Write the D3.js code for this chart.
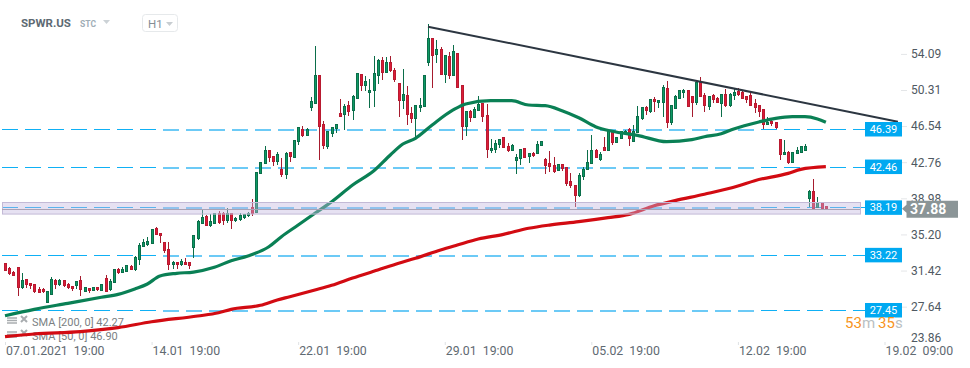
<!DOCTYPE html>
<html>
<head>
<meta charset="utf-8">
<script src="https://cdn.jsdelivr.net/npm/d3@7"></script>
<style>
  html, body { margin: 0; padding: 0; background: #fff; }
  svg { display: block; font-family: Roboto, sans-serif; }
</style>
</head>
<body>
<div id="chart"></div>
<script>
var opens = [32.27,31.78,31.36,31.85,29.76,30.59,30.21,30.14,29.58,29.55,28.22,29.06,30.56,30.10,30.52,30.14,29.89,30.03,30.49,29.41,
  29.69,29.48,29.76,29.48,30.70,29.55,30.31,31.74,31.36,31.53,32.02,31.64,32.76,34.08,34.29,34.43,35.93,35.48,34.50,33.80,
  32.16,32.41,32.16,32.44,32.44,34.01,34.92,36.52,37.25,36.24,36.52,37.50,37.50,36.80,37.50,36.77,36.87,37.11,37.36,38.20,
  37.70,41.72,42.76,44.16,43.53,43.04,42.20,41.61,43.88,43.46,45.07,46.36,45.66,48.62,49.04,52.04,46.91,44.61,45.90,46.43,
  48.03,47.86,48.80,48.31,49.56,52.11,50.89,50.19,50.47,51.94,53.58,52.29,53.37,52.46,51.10,49.36,49.91,48.03,47.47,48.59,
  48.73,53.33,55.81,54.17,54.76,52.14,53.99,51.97,54.34,50.89,46.63,48.17,47.61,48.31,49.04,47.82,44.09,44.23,44.75,45.45,
  44.61,44.09,43.07,43.32,44.30,43.49,43.84,43.81,44.64,43.25,42.83,42.62,42.03,42.69,42.41,40.88,40.49,39.41,41.40,42.17,
  42.76,44.19,43.25,44.50,44.12,46.11,44.96,45.38,45.94,46.29,45.06,46.01,47.51,48.69,48.27,49.49,49.15,49.15,50.65,47.05,
  48.55,49.63,50.19,50.44,49.77,49.15,51.24,49.91,48.73,49.91,49.63,49.08,50.02,48.83,49.88,50.30,50.23,49.74,49.91,49.01,
  48.83,48.45,46.88,47.16,47.05,45.31,43.70,43.95,42.87,43.81,43.91,44.19,39.10,39.90,38.19,38.72,38.23];
var highs = [32.34,31.92,31.50,31.92,31.36,30.66,30.24,30.21,29.82,29.72,29.41,30.87,30.66,30.70,30.59,30.24,29.96,30.52,31.01,29.89,
  29.76,29.82,29.82,30.14,31.08,30.66,31.78,31.81,31.92,32.20,32.13,33.10,34.43,34.92,35.06,35.96,36.10,35.55,34.60,34.53,
  32.58,32.48,32.76,32.86,32.48,35.34,36.84,37.92,37.36,37.50,37.57,37.78,37.71,38.09,37.50,37.15,37.57,37.50,37.71,39.07,
  41.94,42.90,44.61,44.16,43.53,43.98,43.32,43.98,43.98,45.27,46.57,46.70,46.46,49.77,55.08,52.04,47.26,46.08,46.57,46.91,
  49.53,49.01,49.36,49.91,52.22,52.11,51.94,51.66,54.03,53.68,53.89,53.96,54.03,52.77,51.24,52.67,50.89,48.66,48.87,49.60,
  52.08,57.38,55.88,55.70,54.93,54.03,54.48,55.18,54.34,50.89,48.17,48.38,48.72,49.84,49.04,48.97,45.31,45.24,45.31,45.52,
  44.89,44.82,43.77,44.26,44.37,43.91,43.95,45.17,45.10,43.32,44.09,43.42,42.69,42.69,42.41,41.82,40.49,41.75,42.45,44.19,
  45.76,44.26,44.02,45.59,46.18,46.18,45.59,46.22,46.29,46.46,46.81,48.80,48.73,48.80,49.56,49.70,49.39,50.99,51.41,48.80,
  49.91,50.47,50.54,50.44,49.84,51.31,51.80,50.12,49.84,50.02,49.70,50.02,50.61,50.12,50.54,50.65,50.37,49.84,50.30,49.49,
  48.90,48.45,47.61,47.33,47.12,45.31,45.24,44.09,43.95,44.47,44.54,44.82,40.01,41.16,39.27,38.72,38.23];
var lows = [31.50,31.15,31.01,28.95,29.69,29.72,29.62,29.23,29.23,29.27,28.15,28.99,29.69,29.96,29.82,29.69,29.41,29.62,28.92,29.34,
  29.20,29.41,29.48,29.41,29.34,29.41,30.24,31.22,31.29,31.43,31.64,31.57,32.16,34.01,34.19,34.36,35.27,34.43,33.38,31.64,
  31.71,31.78,32.06,32.13,31.78,32.89,34.78,36.45,36.24,36.17,36.45,36.49,36.31,36.52,35.96,36.66,36.80,37.01,37.22,37.29,
  37.70,41.72,42.69,42.94,42.55,42.62,41.40,41.16,42.97,43.39,44.72,45.59,45.66,48.31,49.04,43.15,44.30,44.30,45.52,46.01,
  47.61,46.29,47.75,47.33,49.56,50.40,50.40,48.59,48.73,51.10,51.52,52.22,52.39,51.27,47.68,48.48,46.81,46.98,45.41,48.17,
  48.66,52.98,50.68,53.33,52.14,51.24,51.59,51.97,50.71,45.24,45.69,47.16,47.57,48.31,47.16,43.39,43.91,43.91,44.40,44.47,
  44.02,44.05,41.71,42.62,43.42,42.86,43.49,43.74,44.61,41.71,41.92,41.82,41.99,41.99,40.42,40.25,38.26,39.31,41.05,42.17,
  42.76,43.32,43.07,44.09,44.09,44.75,44.89,45.38,45.87,44.61,45.06,46.01,47.33,47.85,48.03,48.20,48.55,47.68,46.49,46.77,
  48.55,49.56,49.60,48.73,47.68,48.94,49.70,48.20,48.38,49.08,49.08,47.68,48.73,48.73,49.42,49.84,49.49,49.08,48.80,48.03,
  47.68,46.39,46.81,46.70,46.42,43.15,43.67,42.73,42.87,43.77,43.84,44.16,38.19,38.05,38.16,38.09,38.05];
var closes = [31.57,31.29,31.08,29.82,30.52,30.10,30.00,29.37,29.30,29.34,29.34,30.59,30.07,30.49,30.03,29.76,29.65,30.45,29.62,29.76,
  29.48,29.76,29.55,30.07,29.41,30.45,31.64,31.36,31.74,32.06,31.71,32.96,34.22,34.50,34.64,35.89,35.34,35.23,33.66,32.16,
  32.44,32.20,32.48,32.20,32.13,35.27,36.73,37.15,36.24,36.73,37.50,36.59,36.80,37.50,36.77,37.05,37.39,37.46,37.53,37.57,
  41.89,42.90,44.19,43.39,42.97,43.67,41.58,43.84,43.50,45.17,46.50,45.66,46.36,49.22,52.04,46.60,44.65,46.08,46.57,46.81,
  47.75,48.76,48.27,49.74,52.22,50.93,51.31,50.47,52.15,53.61,52.29,53.37,52.46,51.62,49.36,49.95,47.86,47.44,48.80,48.90,
  52.01,55.81,54.13,54.76,52.14,54.03,51.97,54.45,50.71,46.63,48.17,47.57,48.45,48.97,47.68,44.23,44.37,44.92,45.31,44.50,
  44.09,44.71,43.46,44.26,43.46,43.84,43.60,44.78,45.03,42.62,42.45,41.99,42.69,42.24,40.67,40.49,39.41,41.57,42.20,42.93,
  44.16,43.39,43.67,44.12,46.11,44.96,45.55,46.08,46.15,45.38,46.11,47.75,48.69,48.31,49.49,49.25,49.39,50.75,47.12,48.80,
  49.84,50.40,50.44,48.73,49.15,51.24,49.77,48.83,49.74,49.49,49.15,50.02,48.83,50.05,50.26,49.98,49.56,49.46,48.87,48.69,
  48.27,46.91,47.12,46.95,46.53,43.77,43.98,42.87,43.95,44.19,44.51,44.51,39.90,38.09,38.75,38.09,38.05];

var sma50Bars = [0,7,15,23,27,31,34,37,41,45,50,54,58,63,66,70,74,78,83,88,92,95,98,102,107,110,116,121,125,129,133,137,141,145,151,158,164,167,171,174,180,184,188,191,194,196];
var sma50Values = [26.85,27.52,28.15,28.78,29.09,29.65,30.17,31.01,31.29,31.42,31.92,32.61,33.10,34.07,35.12,36.34,37.57,38.78,40.53,41.99,43.67,44.82,45.42,46.81,48.38,49.01,49.35,49.35,48.90,48.83,48.31,47.57,46.63,46.15,45.73,45.06,45.27,45.58,45.90,46.39,47.12,47.51,47.68,47.68,47.44,47.09];
var sma200Bars = [0,7,18,27,35,46,51,54,61,65,68,74,78,83,89,94,98,104,108,113,119,125,130,137,144,149,155,160,167,175,179,187,190,196];
var sma200Values = [24.66,24.94,25.18,25.60,26.22,26.82,27.16,27.52,27.94,28.50,28.84,29.54,30.03,30.80,31.63,32.34,32.86,33.73,34.25,34.88,35.37,36.00,36.34,36.69,37.11,37.46,38.36,38.89,39.56,40.42,40.98,41.75,42.17,42.45];

var trendBars = [101, 213.2];
var trendValues = [57.10, 47.15];

var levels = [46.39, 42.46, 38.19, 33.22, 27.45];
var bandTop = 38.80;
var bandBottom = 37.59;
var lastPrice = 37.88;

var priceTicks = [54.09, 50.31, 46.54, 42.76, 38.98, 35.20, 31.42, 27.64, 23.86];
var dateTicks = [0, 35, 70, 105, 140, 175, 210];
var dateLabels = ["07.01.2021  19:00", "14.01  19:00", "22.01  19:00", "29.01  19:00", "05.02  19:00", "12.02  19:00", "19.02  09:00"];
var legendRows = ["SMA [200, 0] 42.27", "SMA [50, 0] 46.90"];

var svgWidth = 970;
var svgHeight = 368;

var svg = d3.select("#chart")
  .append("svg")
  .attr("width", svgWidth)
  .attr("height", svgHeight);

var xScale = d3.scaleLinear().domain([0, 210]).range([5, 884.5]);
// value 46.39 sits on y=129, 27.45 on y=310
var yScale = d3.scaleLinear().domain([46.39, 27.45]).range([129, 310]);

// header
svg.append("text").attr("x", 21).attr("y", 27).attr("font-size", 11.5).attr("font-weight", 700)
  .attr("fill", "#5d6a73").text("SPWR.US");
svg.append("text").attr("x", 80).attr("y", 27).attr("font-size", 8.5).attr("font-weight", 700)
  .attr("fill", "#a0adb6").text("STC");
svg.append("path").attr("d", "M103,20 L110,20 L106.5,24 Z").attr("fill", "#ccd2d6");
svg.append("rect").attr("x", 142.5).attr("y", 14.5).attr("width", 35).attr("height", 17).attr("rx", 3)
  .attr("fill", "none").attr("stroke", "#e6e9eb");
svg.append("text").attr("x", 148).attr("y", 28).attr("font-size", 11.5).attr("fill", "#858e95").text("H1");
svg.append("path").attr("d", "M166,22 L173,22 L169.5,26 Z").attr("fill", "#c8cdd1");

// sma legend goes under the lines
var legend = svg.append("g");
legendRows.forEach(function (row, i) {
  var rowY = 326 + i * 14;
  legend.append("text").attr("x", 32).attr("y", rowY).attr("font-size", 11)
    .attr("fill", "#7b7f83").text(row);
  [-8, -5.5, -3].forEach(function (d) {
    legend.append("line").attr("x1", 7).attr("x2", 17).attr("y1", rowY + d).attr("y2", rowY + d)
      .attr("stroke", "#a8acaf").attr("stroke-width", 1.5);
  });
  legend.append("path").attr("d", "M21," + (rowY - 10) + " L27," + (rowY - 4) + " M27," + (rowY - 10) + " L21," + (rowY - 4))
    .attr("stroke", "#a8acaf").attr("stroke-width", 2);
});

// horizontal levels
var levelGroup = svg.append("g");
levelGroup.selectAll("line.level")
  .data(levels)
  .enter()
  .append("line")
  .attr("class", "level")
  .attr("x1", 2)
  .attr("x2", 865)
  .attr("y1", d => Math.round(yScale(d)) + 0.5)
  .attr("y2", d => Math.round(yScale(d)) + 0.5)
  .attr("stroke", "#0fb0f5")
  .attr("stroke-dasharray", "16 7");
// middle stretch of each level reads softer and wider
levelGroup.selectAll("line.soft")
  .data(levels)
  .enter()
  .append("line")
  .attr("class", "soft")
  .attr("x1", 163)
  .attr("x2", 760)
  .attr("y1", d => Math.round(yScale(d)) + 1)
  .attr("y2", d => Math.round(yScale(d)) + 1)
  .attr("stroke", "#6ccaf6")
  .attr("stroke-width", 2)
  .attr("stroke-dasharray", "16 7");

// candles
var bars = d3.range(opens.length);
var candles = svg.append("g").attr("shape-rendering", "crispEdges");

candles.selectAll("line")
  .data(bars)
  .enter()
  .append("line")
  .attr("x1", i => Math.round(xScale(i)) + 0.5)
  .attr("x2", i => Math.round(xScale(i)) + 0.5)
  .attr("y1", i => yScale(highs[i]))
  .attr("y2", i => yScale(lows[i]))
  .attr("stroke", i => closes[i] >= opens[i] ? "#0b6e4a" : "#a61b2e");

candles.selectAll("rect")
  .data(bars)
  .enter()
  .append("rect")
  .attr("x", i => Math.round(xScale(i)) - 0.5)
  .attr("width", 2)
  .attr("y", i => yScale(Math.max(opens[i], closes[i])))
  .attr("height", i => Math.max(1, Math.abs(yScale(opens[i]) - yScale(closes[i]))))
  .attr("fill", i => closes[i] >= opens[i] ? "#0d9a65" : "#dc1c38")
  .attr("stroke", i => closes[i] >= opens[i] ? "#0b6e4a" : "#b81a30");

// moving averages
var line = d3.line().x(d => xScale(d[0])).y(d => yScale(d[1])).curve(d3.curveMonotoneX);

svg.append("path")
  .attr("d", line(d3.zip(sma200Bars, sma200Values)))
  .attr("fill", "none")
  .attr("stroke", "#d20b12")
  .attr("stroke-width", 3.2);

svg.append("path")
  .attr("d", line(d3.zip(sma50Bars, sma50Values)))
  .attr("fill", "none")
  .attr("stroke", "#0a8055")
  .attr("stroke-width", 3.2);

svg.append("path")
  .attr("d", d3.line().x(d => xScale(d[0])).y(d => yScale(d[1]))(d3.zip(trendBars, trendValues)))
  .attr("fill", "none")
  .attr("stroke", "#2c3641")
  .attr("stroke-width", 2);

// zone sits on top of everything, so candles look faded inside it
svg.append("rect")
  .attr("x", 2.5)
  .attr("width", 858)
  .attr("y", Math.round(yScale(bandTop)) + 0.5)
  .attr("height", yScale(bandBottom) - yScale(bandTop))
  .attr("fill", "#c4b8e0")
  .attr("fill-opacity", 0.42)
  .attr("stroke", "#c3bad6");

svg.append("line")
  .attr("x1", 2)
  .attr("x2", 860)
  .attr("y1", Math.round(yScale(lastPrice) - 1.5) + 0.5)
  .attr("y2", Math.round(yScale(lastPrice) - 1.5) + 0.5)
  .attr("stroke", "#a9a2b4");

// right axis
var yAxis = d3.axisRight(yScale)
  .tickValues(priceTicks)
  .tickFormat(d3.format(".2f"))
  .tickSize(6)
  .tickPadding(4);

var yAxisGroup = svg.append("g")
  .attr("transform", "translate(901, -1.5)")
  .call(yAxis);
yAxisGroup.select(".domain").remove();
yAxisGroup.selectAll("line").attr("stroke", "#e4e6e8");
yAxisGroup.selectAll("text")
  .attr("font-family", "Roboto, sans-serif")
  .attr("font-size", 12)
  .attr("fill", "#4f5962");
// bottom price label is pushed up so it stays above the dates
var lastTick = yAxisGroup.selectAll(".tick").filter(d => d === 23.86);
lastTick.select("line").remove();
lastTick.select("text").attr("y", -5);

// level tags
var tags = svg.append("g");
tags.selectAll("rect")
  .data(levels)
  .enter()
  .append("rect")
  .attr("x", 865)
  .attr("width", 37)
  .attr("y", d => yScale(d) - 7)
  .attr("height", 14.5)
  .attr("fill", "#00a9f1");
tags.selectAll("text")
  .data(levels)
  .enter()
  .append("text")
  .attr("x", 883.5)
  .attr("y", d => yScale(d) + 4)
  .attr("text-anchor", "middle")
  .attr("font-size", 11)
  .attr("fill", "#fff")
  .text(d => d3.format(".2f")(d));

// current price tag
var priceY = yScale(lastPrice) - 1.5;
svg.append("path")
  .attr("d", "M902," + priceY + " L906.5," + (priceY - 4) + " V" + (priceY - 8) + " H958 V" + (priceY + 9) + " H906.5 V" + (priceY + 4) + " Z")
  .attr("fill", "#8b9597");
svg.append("text")
  .attr("x", 910)
  .attr("y", priceY + 5)
  .attr("font-size", 14)
  .attr("font-weight", 700)
  .attr("fill", "#fff")
  .text(d3.format(".2f")(lastPrice));

// countdown
var countdown = svg.append("text").attr("x", 845).attr("y", 328).attr("font-size", 15);
countdown.append("tspan").attr("fill", "#f7941d").text("53");
countdown.append("tspan").attr("fill", "#b9bfc3").text("m");
countdown.append("tspan").attr("dx", 3).attr("fill", "#f7941d").text("35");
countdown.append("tspan").attr("fill", "#b9bfc3").text("s");

// date axis
var xAxis = d3.axisBottom(xScale)
  .tickValues(dateTicks)
  .tickFormat((d, i) => dateLabels[i])
  .tickSize(3)
  .tickPadding(1);

var xAxisGroup = svg.append("g")
  .attr("transform", "translate(0, 342)")
  .call(xAxis);
xAxisGroup.select(".domain").remove();
xAxisGroup.selectAll("line").attr("stroke", "#dfe2e4");
xAxisGroup.selectAll("text")
  .attr("font-family", "Roboto, sans-serif")
  .attr("font-size", 12.3)
  .attr("fill", "#5f6a72")
  .attr("text-anchor", "start")
  .attr("x", 0.5)
  .style("white-space", "pre");
</script>
</body>
</html>
